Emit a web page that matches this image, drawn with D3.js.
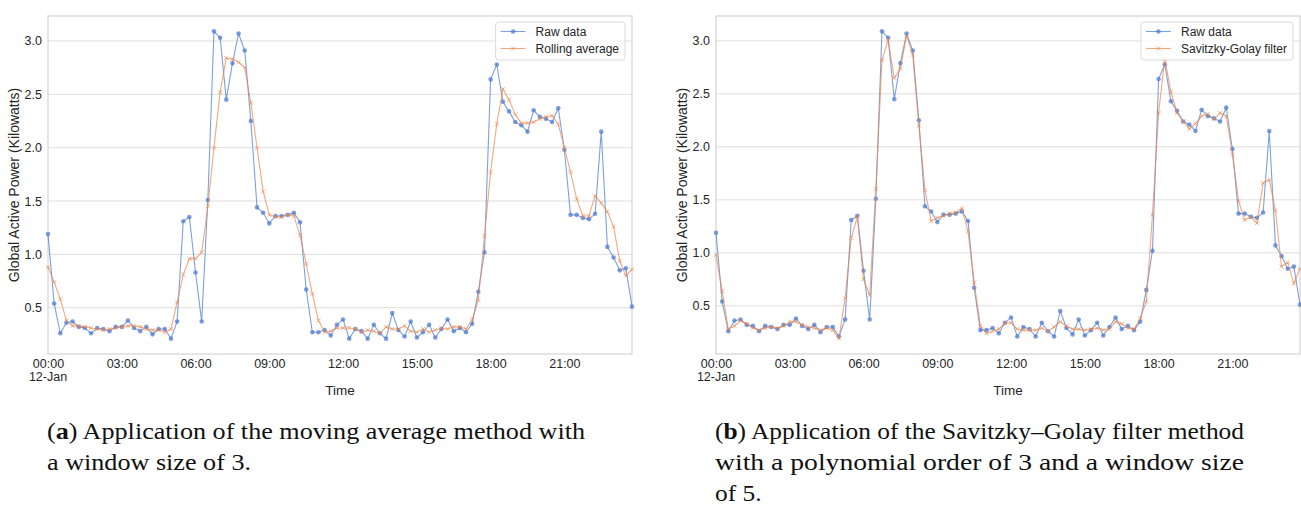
<!DOCTYPE html>
<html>
<head>
<meta charset="utf-8">
<script src="https://cdn.jsdelivr.net/npm/d3@7"></script>
<style>
  body { margin: 0; background: #fff; }
  svg text { font-family: "Liberation Sans", Arial, sans-serif; fill: #262626; }
  .caption text { font-family: "Liberation Serif", "Times New Roman", serif; fill: #111; }
</style>
</head>
<body>
<div id="chart"></div>
<script>
// 15-minute readings for 12 Jan, kW
var raw = [1.19,0.54,0.26,0.36,0.37,0.32,0.31,0.26,0.31,0.30,
  0.28,0.32,0.32,0.38,0.31,0.28,0.32,0.25,0.30,0.30,
  0.21,0.37,1.31,1.35,0.83,0.37,1.51,3.09,3.03,2.45,
  2.79,3.07,2.91,2.25,1.44,1.39,1.29,1.36,1.36,1.37,
  1.39,1.30,0.67,0.27,0.27,0.29,0.24,0.34,0.39,0.21,
  0.30,0.28,0.21,0.34,0.26,0.21,0.45,0.29,0.23,0.37,
  0.22,0.27,0.34,0.22,0.30,0.39,0.28,0.31,0.27,0.35,
  0.65,1.02,2.64,2.78,2.43,2.34,2.24,2.21,2.15,2.35,
  2.29,2.27,2.24,2.37,1.98,1.37,1.37,1.34,1.33,1.38,
  2.15,1.07,0.97,0.85,0.87,0.51];

var rolling = [0.88,0.74,0.58,0.38,0.33,0.33,0.32,0.31,0.30,0.29,
  0.30,0.31,0.32,0.33,0.33,0.32,0.30,0.29,0.29,0.27,
  0.30,0.55,0.81,0.96,0.96,1.02,1.45,2.00,2.52,2.84,
  2.83,2.80,2.75,2.42,2.00,1.59,1.37,1.35,1.35,1.37,
  1.36,1.18,0.91,0.63,0.38,0.27,0.28,0.31,0.31,0.31,
  0.30,0.27,0.29,0.28,0.26,0.32,0.30,0.30,0.33,0.28,
  0.27,0.30,0.27,0.29,0.31,0.30,0.32,0.32,0.30,0.39,
  0.57,1.17,1.77,2.22,2.55,2.45,2.31,2.23,2.23,2.24,
  2.27,2.29,2.30,2.22,2.00,1.77,1.52,1.36,1.36,1.55,
  1.48,1.40,1.26,0.94,0.80,0.86];

var savgol = [0.98,0.64,0.28,0.31,0.36,0.33,0.29,0.27,0.29,0.30,
  0.29,0.31,0.35,0.35,0.32,0.30,0.29,0.27,0.29,0.27,
  0.19,0.57,1.14,1.34,0.75,0.60,1.60,2.82,3.01,2.65,
  2.74,3.05,2.87,2.20,1.59,1.30,1.33,1.35,1.37,1.38,
  1.42,1.20,0.72,0.31,0.24,0.26,0.28,0.34,0.34,0.28,
  0.27,0.27,0.27,0.29,0.26,0.30,0.35,0.31,0.28,0.28,
  0.27,0.28,0.29,0.27,0.28,0.35,0.33,0.29,0.28,0.38,
  0.54,1.36,2.32,2.83,2.52,2.32,2.24,2.17,2.22,2.29,
  2.31,2.26,2.32,2.29,1.93,1.49,1.31,1.34,1.28,1.66,
  1.69,1.40,0.87,0.91,0.71,0.85];

var times = d3.range(raw.length).map(function(i) { return new Date(2007, 0, 12, 0, i * 15); });
var xTickLabels = ["00:00","03:00","06:00","09:00","12:00","15:00","18:00","21:00"];
var xTickValues = xTickLabels.map(function(s) { return new Date(2007, 0, 12, +s.slice(0, 2), 0); });
var yTickValues = [0.5, 1.0, 1.5, 2.0, 2.5, 3.0];

var blue = "#4878d0", orange = "#ee854a";

var svg = d3.select("#chart").append("svg").attr("width", 1301).attr("height", 509);

// caption lines: [bold label, text, full width or 0 for a last line]
var panels = [
  { left: 48, smooth: rolling, name: "Rolling average",
    caption: [["a", " Application of the moving average method with", 538],
              ["", "a window size of 3.", 0]] },
  { left: 716, smooth: savgol, name: "Savitzky-Golay filter",
    caption: [["b", " Application of the Savitzky\u2013Golay filter method", 529],
              ["", "with a polynomial order of 3 and a window size", 529],
              ["", "of 5.", 0]] }
];

var plotTop = 16, plotBottom = 354, plotW = 584;

panels.forEach(function(p) {
  var g = svg.append("g");
  var all = raw.concat(p.smooth);
  var lo = d3.min(all), hi = d3.max(all), pad = (hi - lo) * 0.05;

  var x = d3.scaleTime().domain([times[0], times[times.length - 1]]).range([p.left, p.left + plotW]);
  var y = d3.scaleLinear().domain([lo - pad, hi + pad]).range([plotBottom, plotTop]);

  // horizontal grid
  g.append("g").selectAll("line").data(yTickValues).enter().append("line")
    .attr("x1", p.left).attr("x2", p.left + plotW)
    .attr("y1", function(d) { return y(d); }).attr("y2", function(d) { return y(d); })
    .attr("stroke", "#dedede").attr("stroke-width", 1);

  // frame
  g.append("rect").attr("x", p.left).attr("y", plotTop).attr("width", plotW).attr("height", plotBottom - plotTop)
    .attr("fill", "none").attr("stroke", "#d4d4d4").attr("stroke-width", 1.2);

  var yAxis = g.append("g").attr("transform", "translate(" + p.left + ",0)")
    .call(d3.axisLeft(y).tickValues(yTickValues).tickFormat(d3.format(".1f")).tickSize(0).tickPadding(6));
  yAxis.select(".domain").remove();
  yAxis.selectAll("text").style("font-size", "12.5px").style("font-family", "Liberation Sans, Arial, sans-serif").attr("fill", "#262626");

  var xAxis = g.append("g").attr("transform", "translate(0," + plotBottom + ")")
    .call(d3.axisBottom(x).tickValues(xTickValues).tickFormat(function(d, i) { return xTickLabels[i]; }).tickSize(0).tickPadding(5));
  xAxis.select(".domain").remove();
  xAxis.selectAll("text").style("font-size", "12.5px").style("font-family", "Liberation Sans, Arial, sans-serif").attr("fill", "#262626");
  xAxis.append("text").attr("x", x(xTickValues[0])).attr("y", 27).attr("text-anchor", "middle")
    .style("font-size", "12.5px").attr("fill", "#262626").text("12-Jan");

  g.append("text").attr("x", p.left + plotW / 2).attr("y", 395).attr("text-anchor", "middle")
    .style("font-size", "13.5px").text("Time");
  g.append("text").attr("transform", "translate(" + (p.left - 29) + "," + ((plotTop + plotBottom) / 2) + ") rotate(-90)")
    .attr("text-anchor", "middle").style("font-size", "14px").text("Global Active Power (Kilowatts)");

  var line = d3.line().x(function(d, i) { return x(times[i]); }).y(function(d) { return y(d); });

  // raw series
  g.append("path").datum(raw).attr("d", line).attr("fill", "none")
    .attr("stroke", blue).attr("stroke-opacity", 0.7).attr("stroke-width", 1.1);
  g.append("g").selectAll("circle").data(raw).enter().append("circle")
    .attr("cx", function(d, i) { return x(times[i]); }).attr("cy", function(d) { return y(d); })
    .attr("r", 2.3).attr("fill", blue).attr("fill-opacity", 0.7);

  // smoothed series
  g.append("path").datum(p.smooth).attr("d", line).attr("fill", "none")
    .attr("stroke", orange).attr("stroke-opacity", 0.7).attr("stroke-width", 1.1);
  g.append("g").selectAll("path").data(p.smooth).enter().append("path")
    .attr("transform", function(d, i) { return "translate(" + x(times[i]) + "," + y(d) + ")"; })
    .attr("d", "M-2,-2L2,2M-2,2L2,-2").attr("stroke", orange).attr("stroke-opacity", 0.7).attr("stroke-width", 0.9);

  // legend
  var lg = g.append("g");
  var box = lg.append("rect");
  var entries = [["Raw data", blue, "dot"], [p.name, orange, "x"]];
  var maxW = 0;
  var labels = [];
  entries.forEach(function(e, k) {
    var cy = 31.5 + k * 17;
    var t = lg.append("text").attr("y", cy + 4.5).style("font-size", "12px").text(e[0]);
    labels.push(t);
    maxW = Math.max(maxW, t.node().getComputedTextLength());
  });
  var right = p.left + plotW - 7;
  var bx = right - (maxW + 46);
  box.attr("x", bx).attr("y", 22).attr("width", maxW + 46).attr("height", 38).attr("rx", 3)
    .attr("fill", "#fff").attr("fill-opacity", 0.8).attr("stroke", "#dcdcdc");
  entries.forEach(function(e, k) {
    var cy = 31.5 + k * 17;
    labels[k].attr("x", bx + 40);
    lg.append("line").attr("x1", bx + 5).attr("x2", bx + 30).attr("y1", cy).attr("y2", cy)
      .attr("stroke", e[1]).attr("stroke-opacity", 0.7).attr("stroke-width", 1.1);
    if (e[2] === "dot") {
      lg.append("circle").attr("cx", bx + 17.5).attr("cy", cy).attr("r", 2.3).attr("fill", e[1]).attr("fill-opacity", 0.7);
    } else {
      lg.append("path").attr("transform", "translate(" + (bx + 17.5) + "," + cy + ")")
        .attr("d", "M-2,-2L2,2M-2,2L2,-2").attr("stroke", e[1]).attr("stroke-opacity", 0.7).attr("stroke-width", 0.9);
    }
  });

  // caption: the first line sets the horizontal stretch, the rest follow it
  var cap = svg.append("g").attr("class", "caption");
  var stretch = 1;
  p.caption.forEach(function(c, k) {
    var t = cap.append("text").attr("x", p.left - 1).attr("y", 439 + k * 31).style("font-size", "22.5px");
    if (c[0]) {
      t.append("tspan").text("(");
      t.append("tspan").style("font-weight", "bold").text(c[0]);
      t.append("tspan").text(")");
    }
    t.append("tspan").text(c[1]);
    var natural = t.node().getComputedTextLength();
    if (k === 0) stretch = c[2] / natural;
    var target = c[2] ? c[2] : natural * stretch;
    t.attr("textLength", target).attr("lengthAdjust", "spacingAndGlyphs");
  });
});
</script>
</body>
</html>
